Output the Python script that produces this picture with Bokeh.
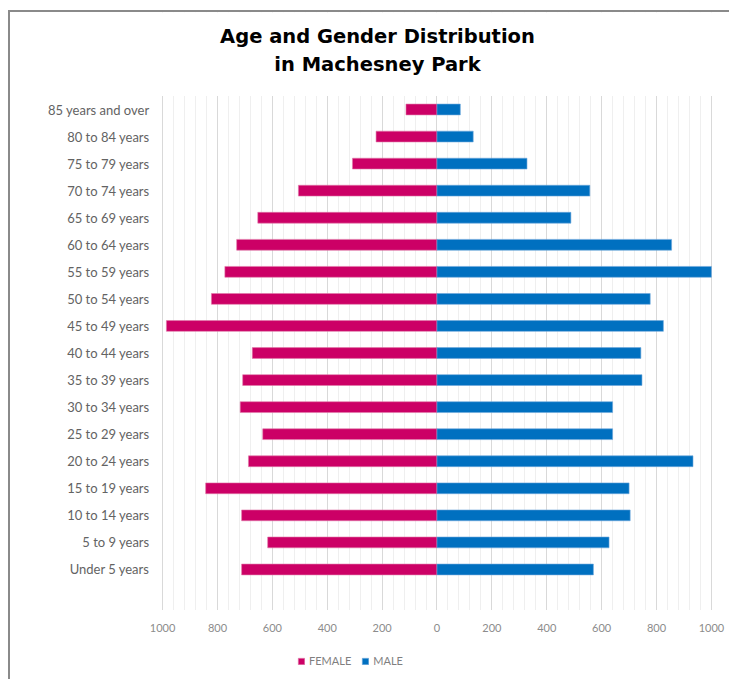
from bokeh.plotting import figure
from bokeh.models import (Range1d, FixedTicker, CustomJSTickFormatter, Legend, LegendItem, Label,
                          BoxAnnotation)
from bokeh.embed import file_html
from bokeh.resources import INLINE

ages = ["Under 5 years", "5 to 9 years", "10 to 14 years", "15 to 19 years", "20 to 24 years",
        "25 to 29 years", "30 to 34 years", "35 to 39 years", "40 to 44 years", "45 to 49 years",
        "50 to 54 years", "55 to 59 years", "60 to 64 years", "65 to 69 years", "70 to 74 years",
        "75 to 79 years", "80 to 84 years", "85 years and over"]
female = [712, 617, 712, 843, 687, 635, 717, 708, 673, 986, 822, 773, 730, 653, 505, 308, 222, 113]
male = [570, 627, 704, 700, 933, 640, 640, 747, 743, 825, 777, 1000, 855, 488, 557, 328, 132, 85]
x_ticks = list(range(-1000, 1001, 200))
x_minor = list(range(-1000, 1001, 40))
title_lines = ["Age and Gender Distribution", "in Machesney Park"]

BORDER = "2px solid #8a8a8a"

ypos = list(range(len(ages)))
neg_female = [-v for v in female]
zeros = [0] * len(ages)
n = len(ages)
plot_bottom = -1.5          # lower edge of the gridded plot area (one empty slot)
plot_top = n - 0.5

p = figure(width=721, height=669, output_backend="svg", toolbar_location=None,
           x_range=Range1d(-1044, 1066), y_range=Range1d(-4.14, 20.585),
           min_border_left=140, min_border_right=2, min_border_top=0, min_border_bottom=0,
           margin=(10, 0, 0, 8))
p.styles = {"border-left": BORDER, "border-top": BORDER}
p.outline_line_color = None

# white masks so the vertical grid only spans the plot area
mask_kw = dict(fill_color="white", fill_alpha=1, line_color=None, level="underlay",
               left=-1000 - 200, right=1000 + 200)
p.add_layout(BoxAnnotation(top=plot_bottom, **mask_kw))
p.add_layout(BoxAnnotation(bottom=plot_top, **mask_kw))

rf = p.hbar(y=ypos, left=neg_female, right=zeros, height=0.4, color="#CC0066",
            line_color="#E07AAA", line_width=0.6)
rm = p.hbar(y=ypos, left=zeros, right=male, height=0.4, color="#0070C0",
            line_color="#6FA8DC", line_width=0.6)

xa = p.xaxis[0]
xa.fixed_location = plot_bottom
xa.ticker = FixedTicker(ticks=x_ticks, minor_ticks=x_minor)
xa.formatter = CustomJSTickFormatter(code="return String(Math.abs(tick))")
xa.axis_line_color = None
xa.major_tick_line_color = None
xa.minor_tick_line_color = None
xa.major_tick_out = 0
xa.minor_tick_out = 0
xa.major_label_text_color = "#8c8c8c"
xa.major_label_text_font = "Lato"
xa.major_label_text_font_size = "11px"
xa.major_label_standoff = 14

ya = p.yaxis[0]
ya.ticker = FixedTicker(ticks=ypos)
ya.major_label_overrides = {i: a for i, a in zip(ypos, ages)}
ya.axis_line_color = None
ya.major_tick_line_color = None
ya.minor_tick_line_color = None
ya.major_tick_out = 0
ya.minor_tick_out = 0
ya.major_label_text_color = "#636363"
ya.major_label_text_font = "Lato"
ya.major_label_text_font_size = "13px"
ya.major_label_standoff = 1

p.xgrid.grid_line_color = "#d9d9d9"
p.xgrid.minor_grid_line_color = "#efefef"
p.ygrid.grid_line_color = None

for txt, yb in zip(title_lines, [645, 617]):
    p.add_layout(Label(x=227, y=yb, x_units="screen", y_units="screen", text=txt,
                       text_align="center", text_baseline="alphabetic",
                       text_font="DejaVu Sans", text_font_style="bold", text_font_size="19.5px",
                       text_color="#000000"))

legend = Legend(items=[LegendItem(label="FEMALE", renderers=[rf]), LegendItem(label="MALE", renderers=[rm])],
                orientation="horizontal", location=(147, 14), padding=0, margin=0, spacing=10,
                glyph_width=8, glyph_height=8, label_standoff=4,
                label_text_font="Lato", label_text_font_size="11px", label_text_color="#7f7f7f",
                border_line_color=None, background_fill_alpha=0)
p.add_layout(legend, "center")

open("out.html", "w").write(file_html(p, INLINE))
